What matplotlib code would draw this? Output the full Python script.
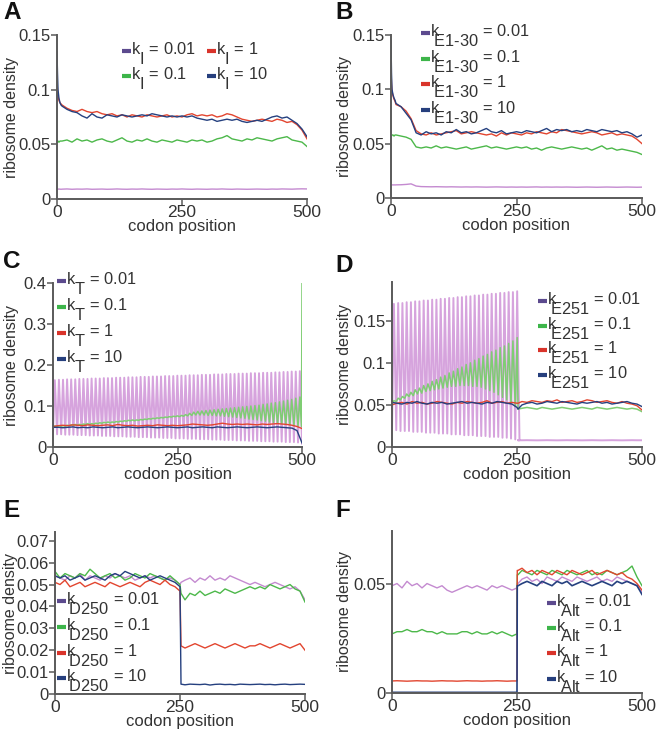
import numpy as np
import matplotlib
matplotlib.use("Agg")
import matplotlib.pyplot as plt
from matplotlib.lines import Line2D
import matplotlib._mathtext as _mt

plt.rcParams['font.family'] = ['Liberation Sans', 'DejaVu Sans']
plt.rcParams['mathtext.fontset'] = 'custom'
plt.rcParams['mathtext.rm'] = 'Liberation Sans'
plt.rcParams['mathtext.it'] = 'Liberation Sans'
plt.rcParams['mathtext.default'] = 'regular'
# subscripts in the reference are full size and dropped well below the baseline
try:
    _mt.SHRINK_FACTOR = 1.0
    _mt.FontConstantsBase.sub1 = 1.15
except Exception:
    pass

# ---------------- data ----------------
rates = ["0.01", "0.1", "1", "10"]

# Panel A (initiation)
a_head = [0, 1, 2, 4, 6, 8]
a_body = list(range(10, 501, 10))
a_blue = [0.135, 0.115, 0.100, 0.092, 0.088, 0.086,
          0.085, 0.082, 0.080, 0.079, 0.076, 0.074, 0.078, 0.075, 0.074, 0.077,
          0.076, 0.075, 0.077, 0.076, 0.075, 0.076, 0.077, 0.076, 0.078, 0.077,
          0.076, 0.075, 0.076, 0.075, 0.076, 0.075, 0.076, 0.074, 0.073, 0.072,
          0.073, 0.071, 0.072, 0.073, 0.072, 0.073, 0.071, 0.070, 0.071, 0.072,
          0.071, 0.073, 0.075, 0.076, 0.074, 0.075, 0.072, 0.069, 0.064, 0.057]
a_red = [0.108, 0.100, 0.094, 0.090, 0.088, 0.087,
         0.086, 0.083, 0.081, 0.080, 0.082, 0.080, 0.079, 0.080, 0.078, 0.077,
         0.078, 0.076, 0.077, 0.075, 0.077, 0.076, 0.075, 0.077, 0.076, 0.075,
         0.076, 0.077, 0.075, 0.076, 0.075, 0.077, 0.078, 0.076, 0.077, 0.076,
         0.077, 0.075, 0.076, 0.078, 0.077, 0.075, 0.073, 0.072, 0.071, 0.072,
         0.073, 0.072, 0.071, 0.073, 0.072, 0.070, 0.071, 0.068, 0.063, 0.055]
a_green = [0.052, 0.052, 0.053, 0.052, 0.053, 0.053,
           0.053, 0.054, 0.052, 0.055, 0.053, 0.054, 0.052, 0.054, 0.055, 0.053,
           0.052, 0.054, 0.056, 0.053, 0.052, 0.054, 0.053, 0.055, 0.053, 0.052,
           0.054, 0.053, 0.052, 0.054, 0.053, 0.052, 0.054, 0.053, 0.054, 0.052,
           0.053, 0.055, 0.056, 0.058, 0.055, 0.054, 0.053, 0.055, 0.054, 0.056,
           0.055, 0.054, 0.053, 0.055, 0.056, 0.057, 0.054, 0.053, 0.052, 0.048]
a_purple = [0.0100, 0.0092, 0.0090, 0.0091, 0.0090, 0.0089,
            0.0090, 0.0092, 0.0089, 0.0091, 0.0090, 0.0092, 0.0089, 0.0090, 0.0091, 0.0089,
            0.0090, 0.0092, 0.0090, 0.0089, 0.0091, 0.0090, 0.0092, 0.0090, 0.0089, 0.0091,
            0.0090, 0.0089, 0.0091, 0.0090, 0.0092, 0.0090, 0.0089, 0.0091, 0.0090, 0.0089,
            0.0091, 0.0090, 0.0092, 0.0090, 0.0089, 0.0091, 0.0090, 0.0089, 0.0090, 0.0091,
            0.0090, 0.0089, 0.0091, 0.0090, 0.0092, 0.0091, 0.0090, 0.0092, 0.0093, 0.0092]

# Panel B (elongation codons 1-30)
b_blue = [0.145, 0.115, 0.100, 0.095, 0.092, 0.090,
          0.087, 0.084, 0.078, 0.072, 0.060, 0.058, 0.061, 0.059, 0.060, 0.058,
          0.061, 0.060, 0.063, 0.060, 0.061, 0.059, 0.060, 0.062, 0.064, 0.061,
          0.060, 0.062, 0.059, 0.060, 0.061, 0.060, 0.062, 0.061, 0.060, 0.062,
          0.064, 0.061, 0.063, 0.062, 0.063, 0.061, 0.062, 0.061, 0.063, 0.062,
          0.061, 0.063, 0.062, 0.061, 0.062, 0.060, 0.061, 0.059, 0.056, 0.058]
b_red = [0.118, 0.105, 0.098, 0.094, 0.091, 0.089,
         0.086, 0.084, 0.080, 0.073, 0.062, 0.059, 0.058, 0.060, 0.058, 0.059,
         0.060, 0.061, 0.062, 0.059, 0.060, 0.061, 0.060, 0.059, 0.058, 0.059,
         0.057, 0.060, 0.058, 0.060, 0.059, 0.058, 0.060, 0.059, 0.061, 0.060,
         0.059, 0.061, 0.060, 0.063, 0.062, 0.061, 0.060, 0.059, 0.060, 0.061,
         0.060, 0.058, 0.059, 0.060, 0.058, 0.059, 0.058, 0.057, 0.054, 0.050]
b_green = [0.057, 0.057, 0.058, 0.058, 0.057, 0.058,
           0.058, 0.057, 0.056, 0.054, 0.047, 0.046, 0.047, 0.046, 0.048, 0.046,
           0.047, 0.046, 0.045, 0.046, 0.047, 0.045, 0.046, 0.047, 0.048, 0.046,
           0.047, 0.046, 0.045, 0.046, 0.047, 0.046, 0.047, 0.045, 0.046, 0.044,
           0.046, 0.047, 0.046, 0.045, 0.046, 0.047, 0.046, 0.045, 0.046, 0.044,
           0.046, 0.048, 0.045, 0.046, 0.044, 0.045, 0.044, 0.043, 0.042, 0.040]
b_purple = [0.0120, 0.0120, 0.0121, 0.0120, 0.0121, 0.0120,
            0.0121, 0.0122, 0.0125, 0.0130, 0.0110, 0.0105, 0.0104, 0.0103, 0.0104, 0.0103,
            0.0102, 0.0103, 0.0102, 0.0101, 0.0102, 0.0101, 0.0102, 0.0101, 0.0100, 0.0101,
            0.0102, 0.0101, 0.0100, 0.0101, 0.0100, 0.0101, 0.0100, 0.0101, 0.0102, 0.0100,
            0.0101, 0.0100, 0.0101, 0.0100, 0.0101, 0.0100, 0.0099, 0.0100, 0.0101, 0.0100,
            0.0099, 0.0100, 0.0101, 0.0100, 0.0099, 0.0100, 0.0101, 0.0100, 0.0099, 0.0100]

# Panel C (termination)
c_codon = list(range(0, 501, 10))
c_red = [0.050, 0.052, 0.053, 0.052, 0.054, 0.053, 0.052, 0.054, 0.053, 0.052,
         0.053, 0.054, 0.052, 0.055, 0.053, 0.052, 0.053, 0.051, 0.052, 0.053,
         0.052, 0.054, 0.053, 0.052, 0.053, 0.052, 0.053, 0.054, 0.056, 0.055,
         0.054, 0.053, 0.054, 0.056, 0.058, 0.056, 0.055, 0.056, 0.055, 0.056,
         0.055, 0.054, 0.056, 0.055, 0.056, 0.057, 0.056, 0.055, 0.053, 0.050, 0.045]
c_blue = [0.048, 0.048, 0.047, 0.048, 0.049, 0.047, 0.048, 0.047, 0.049, 0.048,
          0.047, 0.048, 0.049, 0.047, 0.048, 0.049, 0.048, 0.047, 0.048, 0.049,
          0.048, 0.047, 0.048, 0.049, 0.048, 0.047, 0.048, 0.049, 0.047, 0.048,
          0.049, 0.048, 0.047, 0.049, 0.048, 0.047, 0.048, 0.049, 0.048, 0.047,
          0.048, 0.049, 0.048, 0.047, 0.048, 0.049, 0.048, 0.047, 0.046, 0.040, 0.010]
c_purple_peak = [0.163, 0.164, 0.164, 0.165, 0.165, 0.165, 0.166, 0.166, 0.166, 0.167,
                 0.167, 0.167, 0.168, 0.168, 0.168, 0.169, 0.169, 0.169, 0.170, 0.170,
                 0.170, 0.171, 0.171, 0.171, 0.172, 0.172, 0.172, 0.173, 0.173, 0.173,
                 0.174, 0.174, 0.174, 0.175, 0.175, 0.175, 0.176, 0.176, 0.176, 0.177,
                 0.177, 0.177, 0.178, 0.178, 0.178, 0.179, 0.179, 0.179, 0.180, 0.180,
                 0.180, 0.181, 0.181, 0.181, 0.182, 0.182, 0.183, 0.183, 0.184, 0.184, 0.185]
c_purple_trough = [0.032, 0.031, 0.031, 0.030, 0.030, 0.030, 0.029, 0.029, 0.029, 0.028,
                   0.028, 0.028, 0.027, 0.027, 0.027, 0.026, 0.026, 0.026, 0.025, 0.025,
                   0.025, 0.024, 0.024, 0.024, 0.023, 0.023, 0.023, 0.022, 0.022, 0.022,
                   0.021, 0.021, 0.021, 0.020, 0.020, 0.020, 0.019, 0.019, 0.019, 0.018,
                   0.018, 0.018, 0.017, 0.017, 0.017, 0.016, 0.016, 0.016, 0.015, 0.015,
                   0.015, 0.014, 0.014, 0.014, 0.013, 0.013, 0.013, 0.012, 0.012, 0.012, 0.011]
c_green_peak = [0.051, 0.052, 0.052, 0.053, 0.054, 0.055, 0.055, 0.056, 0.057, 0.057,
                0.058, 0.059, 0.060, 0.061, 0.061, 0.062, 0.063, 0.064, 0.065, 0.066,
                0.066, 0.067, 0.068, 0.069, 0.070, 0.071, 0.072, 0.073, 0.074, 0.075,
                0.076, 0.077, 0.079, 0.082, 0.085, 0.087, 0.088, 0.089, 0.090, 0.091,
                0.092, 0.093, 0.094, 0.095, 0.096, 0.097, 0.098, 0.099, 0.100, 0.101,
                0.102, 0.104, 0.105, 0.107, 0.108, 0.110, 0.112, 0.114, 0.116, 0.119, 0.122]
c_green_trough = [0.050, 0.050, 0.051, 0.051, 0.052, 0.053, 0.053, 0.054, 0.055, 0.055,
                  0.056, 0.057, 0.058, 0.059, 0.059, 0.060, 0.061, 0.062, 0.063, 0.064,
                  0.064, 0.065, 0.066, 0.067, 0.068, 0.069, 0.070, 0.071, 0.072, 0.073,
                  0.074, 0.074, 0.075, 0.076, 0.077, 0.078, 0.078, 0.078, 0.077, 0.077,
                  0.076, 0.076, 0.075, 0.074, 0.073, 0.072, 0.071, 0.070, 0.068, 0.067,
                  0.066, 0.064, 0.063, 0.061, 0.060, 0.058, 0.057, 0.055, 0.054, 0.052, 0.050]
c_green_end = 0.400

# Panel D (elongation codon 251)
left_codon = list(range(0, 251, 10))
right_codon = [252] + list(range(260, 501, 10))
d_red_l = [0.050, 0.052, 0.053, 0.051, 0.054, 0.052, 0.053, 0.051, 0.052, 0.054, 0.053, 0.052, 0.051,
           0.053, 0.052, 0.054, 0.053, 0.052, 0.053, 0.055, 0.052, 0.053, 0.054, 0.052, 0.053, 0.052]
d_red_r = [0.052, 0.054, 0.053, 0.055, 0.054, 0.053, 0.055, 0.054, 0.056, 0.053, 0.054, 0.055, 0.053,
           0.054, 0.056, 0.055, 0.053, 0.054, 0.055, 0.053, 0.052, 0.054, 0.052, 0.051, 0.049, 0.044]
d_blue_l = [0.053, 0.052, 0.051, 0.053, 0.052, 0.054, 0.052, 0.051, 0.053, 0.052, 0.053, 0.051, 0.052,
            0.053, 0.054, 0.052, 0.053, 0.052, 0.051, 0.053, 0.052, 0.054, 0.053, 0.052, 0.051, 0.047]
d_blue_r = [0.045, 0.050, 0.052, 0.053, 0.051, 0.052, 0.054, 0.053, 0.052, 0.054, 0.053, 0.052, 0.051,
            0.053, 0.052, 0.053, 0.054, 0.052, 0.053, 0.051, 0.052, 0.053, 0.054, 0.052, 0.051, 0.048]
d_green_peak = [0.055, 0.058, 0.060, 0.063, 0.065, 0.068, 0.070, 0.073, 0.075, 0.078,
                0.080, 0.083, 0.085, 0.088, 0.090, 0.093, 0.095, 0.098, 0.100, 0.103,
                0.105, 0.108, 0.110, 0.113, 0.115, 0.118, 0.120, 0.123, 0.126, 0.130]
d_green_trough = [0.052, 0.054, 0.056, 0.058, 0.060, 0.061, 0.063, 0.064, 0.066, 0.067,
                  0.068, 0.069, 0.070, 0.071, 0.072, 0.072, 0.073, 0.073, 0.073, 0.072,
                  0.072, 0.071, 0.069, 0.067, 0.065, 0.062, 0.059, 0.056, 0.052, 0.048]
d_green_r = [0.045, 0.046, 0.047, 0.046, 0.045, 0.047, 0.046, 0.045, 0.046, 0.047, 0.046, 0.045, 0.046,
             0.047, 0.046, 0.045, 0.047, 0.046, 0.045, 0.046, 0.047, 0.046, 0.045, 0.046, 0.045, 0.042]
d_purple_peak = [0.170, 0.171, 0.171, 0.172, 0.172, 0.173, 0.173, 0.174, 0.174, 0.175,
                 0.175, 0.176, 0.176, 0.177, 0.177, 0.178, 0.178, 0.179, 0.179, 0.180,
                 0.180, 0.181, 0.181, 0.182, 0.182, 0.183, 0.183, 0.184, 0.184, 0.185]
d_purple_trough = [0.020, 0.020, 0.019, 0.019, 0.019, 0.018, 0.018, 0.018, 0.017, 0.017,
                   0.017, 0.016, 0.016, 0.016, 0.015, 0.015, 0.015, 0.014, 0.014, 0.014,
                   0.013, 0.013, 0.013, 0.012, 0.012, 0.012, 0.011, 0.011, 0.010, 0.009]
d_purple_r = [0.0080, 0.0080, 0.0081, 0.0080, 0.0079, 0.0080, 0.0081, 0.0080, 0.0079, 0.0080, 0.0081, 0.0080, 0.0080,
              0.0079, 0.0080, 0.0081, 0.0080, 0.0079, 0.0080, 0.0081, 0.0080, 0.0079, 0.0080, 0.0081, 0.0080, 0.0080]

# Panel E (codon 250 drop-off)
e_purple_l = [0.054, 0.053, 0.052, 0.054, 0.053, 0.055, 0.052, 0.054, 0.053, 0.052, 0.054, 0.053, 0.055,
              0.054, 0.053, 0.054, 0.052, 0.053, 0.054, 0.053, 0.054, 0.053, 0.052, 0.053, 0.052, 0.050]
e_purple_r = [0.051, 0.052, 0.053, 0.051, 0.053, 0.052, 0.054, 0.052, 0.053, 0.052, 0.054, 0.053, 0.052,
              0.051, 0.050, 0.051, 0.050, 0.049, 0.050, 0.051, 0.050, 0.049, 0.048, 0.049, 0.047, 0.043]
e_green_l = [0.056, 0.053, 0.055, 0.054, 0.053, 0.055, 0.054, 0.057, 0.055, 0.053, 0.054, 0.055, 0.053,
             0.054, 0.052, 0.053, 0.055, 0.054, 0.053, 0.055, 0.054, 0.053, 0.052, 0.054, 0.052, 0.050]
e_green_r = [0.046, 0.043, 0.046, 0.045, 0.047, 0.045, 0.046, 0.047, 0.046, 0.048, 0.047, 0.046, 0.047,
             0.048, 0.049, 0.048, 0.049, 0.048, 0.050, 0.049, 0.048, 0.049, 0.050, 0.048, 0.047, 0.042]
e_red_l = [0.051, 0.050, 0.052, 0.049, 0.050, 0.051, 0.049, 0.050, 0.051, 0.050, 0.049, 0.051, 0.050,
           0.049, 0.050, 0.051, 0.050, 0.049, 0.051, 0.052, 0.051, 0.050, 0.052, 0.050, 0.049, 0.047]
e_red_r = [0.022, 0.021, 0.022, 0.023, 0.022, 0.021, 0.022, 0.023, 0.022, 0.021, 0.022, 0.023, 0.022,
           0.021, 0.022, 0.022, 0.023, 0.022, 0.021, 0.022, 0.023, 0.022, 0.021, 0.022, 0.023, 0.020]
e_blue_l = [0.054, 0.053, 0.054, 0.052, 0.053, 0.054, 0.052, 0.053, 0.054, 0.053, 0.052, 0.054, 0.055,
            0.054, 0.056, 0.055, 0.054, 0.053, 0.054, 0.052, 0.053, 0.054, 0.053, 0.052, 0.051, 0.049]
e_blue_r = [0.0045, 0.0042, 0.0045, 0.0044, 0.0043, 0.0045, 0.0041, 0.0044, 0.0045, 0.0043, 0.0044, 0.0042, 0.0045,
            0.0044, 0.0043, 0.0044, 0.0045, 0.0043, 0.0044, 0.0042, 0.0044, 0.0045, 0.0043, 0.0044, 0.0045, 0.0044]

# Panel F (alternative initiation at codon 250)
f_purple_l = [0.049, 0.050, 0.048, 0.051, 0.049, 0.050, 0.048, 0.050, 0.049, 0.048, 0.049, 0.047, 0.046,
              0.047, 0.048, 0.049, 0.048, 0.049, 0.048, 0.047, 0.049, 0.048, 0.049, 0.048, 0.047, 0.048]
f_purple_r = [0.050, 0.052, 0.053, 0.051, 0.052, 0.050, 0.053, 0.052, 0.051, 0.053, 0.052, 0.051, 0.053,
              0.052, 0.051, 0.052, 0.053, 0.051, 0.052, 0.051, 0.053, 0.052, 0.051, 0.050, 0.049, 0.046]
f_green_l = [0.027, 0.028, 0.028, 0.029, 0.028, 0.028, 0.029, 0.028, 0.028, 0.027, 0.028, 0.027, 0.027,
             0.027, 0.028, 0.028, 0.027, 0.028, 0.027, 0.027, 0.028, 0.027, 0.028, 0.027, 0.026, 0.027]
f_green_r = [0.054, 0.056, 0.055, 0.054, 0.056, 0.055, 0.054, 0.056, 0.055, 0.054, 0.056, 0.055, 0.054,
             0.055, 0.056, 0.054, 0.055, 0.054, 0.056, 0.055, 0.054, 0.055, 0.056, 0.058, 0.053, 0.049]
f_red_l = [0.0055, 0.0056, 0.0055, 0.0054, 0.0055, 0.0056, 0.0055, 0.0055, 0.0054, 0.0055, 0.0056, 0.0055, 0.0055,
           0.0054, 0.0055, 0.0056, 0.0055, 0.0055, 0.0054, 0.0055, 0.0055, 0.0056, 0.0055, 0.0054, 0.0055, 0.0055]
f_red_r = [0.056, 0.057, 0.055, 0.056, 0.054, 0.056, 0.055, 0.054, 0.056, 0.055, 0.054, 0.056, 0.055,
           0.054, 0.055, 0.056, 0.054, 0.055, 0.056, 0.055, 0.054, 0.055, 0.053, 0.052, 0.050, 0.047]
f_blue_l = [0.0003] * 26
f_blue_r = [0.049, 0.050, 0.051, 0.050, 0.049, 0.051, 0.050, 0.049, 0.051, 0.050, 0.051, 0.049, 0.050,
            0.051, 0.050, 0.049, 0.050, 0.051, 0.050, 0.049, 0.051, 0.050, 0.051, 0.050, 0.049, 0.045]

# ---------------- style ----------------
LINE_COL = {"purple": "#c48ad0", "green": "#4cb84a", "red": "#e2452f", "blue": "#25407f"}
OSC_PURPLE = "#d6a3dd"
OSC_GREEN = "#7fcd73"
HANDLE_COL = ["#5c4a8e", "#3db54a", "#d9342b", "#263f7d"]
SPINE = "#5a5a5a"
TXT = "#333333"
W, H = 658, 734
TICK_FS = 12
LABEL_FS = 11.5
LEG_FS = 11.8

fig = plt.figure(figsize=(W / 100, H / 100), dpi=100)


def make_ax(l, r, b, t, ymax, yticks, yticklabels, ylab_x):
    ax = fig.add_axes([l / W, 1 - b / H, (r - l) / W, (b - t) / H])
    ax.set_xlim(0, 500)
    ax.set_ylim(0, ymax)
    for s in ("top", "right"):
        ax.spines[s].set_visible(False)
    for s in ("left", "bottom"):
        ax.spines[s].set_color(SPINE)
        ax.spines[s].set_linewidth(1.4)
    ax.set_xticks([0, 250, 500])
    ax.set_xticklabels(["0", "250", "500"])
    ax.set_yticks(yticks)
    ax.set_yticklabels(yticklabels)
    ax.tick_params(axis="both", colors=SPINE, labelcolor=TXT, labelsize=TICK_FS,
                   length=4, width=1.1, pad=0.5)
    ax.tick_params(axis="x", labelsize=12.5)
    ax.set_xlabel("codon position", fontsize=LABEL_FS + 0.5, color=TXT, labelpad=-1)
    ax.set_ylabel("ribosome density", fontsize=LABEL_FS, color=TXT)
    ax.yaxis.set_label_coords(ylab_x / W, 1 - (t + b) / 2 / H, transform=fig.transFigure)
    return ax


def osc(start, period, troughs, peaks):
    xs, ys = [], []
    for k, (tr, pk) in enumerate(zip(troughs, peaks)):
        x0 = start + k * period
        xs += [x0, x0 + period * 0.45]
        ys += [tr, pk]
    return xs, ys


def legend(sub_tex, positions, back=0.0):
    """positions: (handle left x, baseline y of 'k') in figure pixels, one per rate."""
    shift = r"\hspace{%.2f}" % (-back) if back else ""
    for (hx, by), col, rate in zip(positions, HANDLE_COL, rates):
        fig.add_artist(Line2D([hx / W, (hx + 8.5) / W], [1 - (by - 4) / H] * 2,
                              transform=fig.transFigure, color=col, lw=3.0,
                              solid_capstyle="butt"))
        label = r"$k_{%s%s}$ = %s" % (shift, sub_tex, rate)
        fig.text((hx + 9) / W, 1 - by / H, label, fontsize=LEG_FS, color=TXT,
                 ha="left", va="baseline")


def letter(x, y, s):
    fig.text(x / W, 1 - y / H, s, fontsize=17.5, fontweight="bold", va="top", ha="left",
             color="#111111")


# ---- A ----
ax = make_ax(57, 307, 199, 35, 0.15, [0, 0.05, 0.1, 0.15], ["0", "0.05", "0.1", "0.15"], 19)
xa = a_head + a_body
ax.plot(xa, a_purple, color=LINE_COL["purple"], lw=1.0)
ax.plot(xa, a_green, color=LINE_COL["green"], lw=1.0)
ax.plot(xa, a_red, color=LINE_COL["red"], lw=1.0)
ax.plot(xa, a_blue, color=LINE_COL["blue"], lw=1.0)
legend(r"\mathregular{I}", [(122, 55), (122, 80), (207, 55), (207, 80)])
letter(3, 1, "A")

# ---- B ----
ax = make_ax(391, 642, 198, 35, 0.15, [0, 0.05, 0.1, 0.15], ["0", "0.05", "0.1", "0.15"], 352)
ax.plot(xa, b_purple, color=LINE_COL["purple"], lw=1.0)
ax.plot(xa, b_green, color=LINE_COL["green"], lw=1.0)
ax.plot(xa, b_red, color=LINE_COL["red"], lw=1.0)
ax.plot(xa, b_blue, color=LINE_COL["blue"], lw=1.0)
legend(r"\mathregular{E1}\text{-}\mathregular{30}", [(421, 37), (421, 63), (421, 88), (421, 114)], back=0.35)
letter(335, 1, "B")

# ---- C ----
ax = make_ax(53, 302, 447, 283, 0.4, [0, 0.1, 0.2, 0.3, 0.4], ["0", "0.1", "0.2", "0.3", "0.4"], 19)
px, py = osc(0, 8.2, c_purple_trough, c_purple_peak)
ax.plot(px + [500], py + [0.008], color=OSC_PURPLE, lw=1.4)
gx, gy = osc(0, 8.2, c_green_trough, c_green_peak)
ax.plot(gx + [499, 500], gy + [0.050, c_green_end], color=OSC_GREEN, lw=1.1)
ax.plot(c_codon, c_red, color=LINE_COL["red"], lw=1.0)
ax.plot(c_codon, c_blue, color=LINE_COL["blue"], lw=1.0)
legend(r"\mathregular{T}", [(57, 285), (57, 311), (57, 337), (57, 363)])
letter(3, 250, "C")

# ---- D ----
ax = make_ax(392, 642, 447, 282, 0.196, [0, 0.05, 0.1, 0.15], ["0", "0.05", "0.1", "0.15"], 352)
px, py = osc(0, 8.5, d_purple_trough, d_purple_peak)
ax.plot(px + [255] + right_codon, py + [0.008] + d_purple_r, color=OSC_PURPLE, lw=1.4)
gx, gy = osc(0, 8.5, d_green_trough, d_green_peak)
ax.plot(gx + right_codon, gy + d_green_r, color=OSC_GREEN, lw=1.1)
ax.plot(left_codon + right_codon, d_red_l + d_red_r, color=LINE_COL["red"], lw=1.0)
ax.plot(left_codon + right_codon, d_blue_l + d_blue_r, color=LINE_COL["blue"], lw=1.0)
legend(r"\mathregular{E251}", [(538, 305), (538, 330), (538, 354), (538, 379)], back=0.35)
letter(335, 254, "D")

# ---- E ----
ax = make_ax(55, 305, 694, 532, 0.074,
             [0, 0.01, 0.02, 0.03, 0.04, 0.05, 0.06, 0.07],
             ["0", "0.01", "0.02", "0.03", "0.04", "0.05", "0.06", "0.07"], 18)
xe = left_codon + right_codon
ax.plot(xe, e_purple_l + e_purple_r, color=LINE_COL["purple"], lw=1.0)
ax.plot(xe, e_green_l + e_green_r, color=LINE_COL["green"], lw=1.0)
ax.plot(xe, e_red_l + e_red_r, color=LINE_COL["red"], lw=1.0)
ax.plot(xe, e_blue_l + e_blue_r, color=LINE_COL["blue"], lw=1.0)
legend(r"\mathregular{D250}", [(57, 605), (57, 631), (57, 657), (57, 682)], back=0.4)
letter(3, 499, "E")

# ---- F ----
ax = make_ax(392, 642, 693, 531, 0.074, [0, 0.05], ["0", "0.05"], 352)
xf = left_codon + [250.5] + right_codon
ax.plot(xf, f_purple_l + [f_purple_r[0]] + f_purple_r, color=LINE_COL["purple"], lw=1.0)
ax.plot(xf, f_green_l + [f_green_r[0]] + f_green_r, color=LINE_COL["green"], lw=1.0)
ax.plot(xf, f_red_l + [f_red_r[0]] + f_red_r, color=LINE_COL["red"], lw=1.0)
ax.plot(xf, f_blue_l + [f_blue_r[0]] + f_blue_r, color=LINE_COL["blue"], lw=1.2)
legend(r"\mathregular{Alt}", [(547, 607), (547, 632), (547, 657), (547, 683)], back=0.3)
letter(335, 499, "F")

fig.savefig("out.png", dpi=100)
